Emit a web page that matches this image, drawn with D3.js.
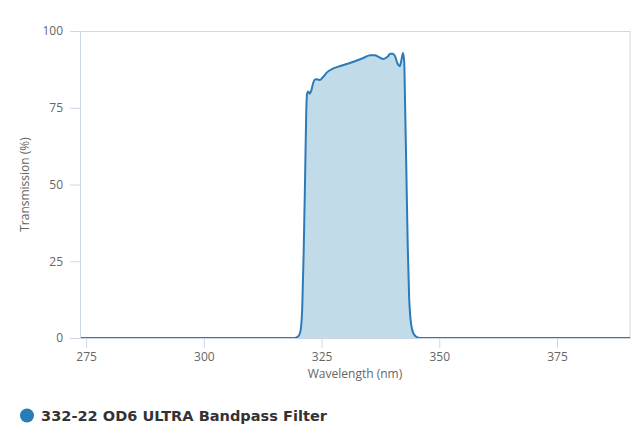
<!DOCTYPE html>
<html>
<head>
<meta charset="utf-8">
<script src="https://cdn.jsdelivr.net/npm/d3@7"></script>
<style>
  html, body { margin: 0; padding: 0; background: #fff; }
  svg { display: block; }
</style>
</head>
<body>
<svg id="chart" width="640" height="446"></svg>
<script>
// ---- data ----
const seriesName = "332-22 OD6 ULTRA Bandpass Filter";
const wavelength = [273.7, 319.0, 319.7, 320.2, 320.6, 320.9, 321.2, 321.5, 321.75, 321.95,
  322.2, 322.5, 322.8, 323.2, 323.6, 324.1, 324.6, 325.3, 326.2, 327.5,
  329.0, 330.7, 332.5, 334.0, 335.3, 336.3, 337.2, 338.1, 339.0, 339.6,
  340.1, 340.6, 341.1, 341.6, 341.95, 342.3, 342.55, 342.75, 343.0, 343.3,
  343.6, 343.9, 344.2, 344.6, 345.2, 346.0, 390.5];
const transmission = [0, 0, 0.2, 0.8, 3, 10, 28, 52, 74, 79.8,
  80.3, 79.6, 80.5, 83, 84.2, 84.3, 84.0, 85.0, 86.6, 87.8,
  88.6, 89.4, 90.4, 91.3, 92.1, 92.1, 91.5, 90.9, 91.6, 92.6,
  92.6, 91.8, 89.5, 88.5, 90.5, 92.8, 90, 75, 55, 30,
  13, 6, 3, 1.2, 0.3, 0, 0];
const xTicks = [275, 300, 325, 350, 375];
const yTicks = [0, 25, 50, 75, 100];
const xTitle = "Wavelength (nm)";
const yTitle = "Transmission (%)";

// ---- layout ----
const svg = d3.select("#chart");
const pLeft = 80, pRight = 630, pTop = 31, pBottom = 338;
const font = "'Open Sans', sans-serif";

const x = d3.scaleLinear().domain([273.7, 390.5]).range([pLeft, pRight]);
const y = d3.scaleLinear().domain([0, 100]).range([pBottom, pTop]);

const data = wavelength.map((w, i) => ({ w, t: transmission[i] }));

// plot border
svg.append("rect")
  .attr("x", pLeft + 0.5).attr("y", pTop + 0.5)
  .attr("width", pRight - pLeft - 0.5).attr("height", pBottom - pTop)
  .attr("fill", "none").attr("stroke", "#d6d6d6").attr("stroke-width", 1);

// area + line
const area = d3.area().x(d => x(d.w)).y0(y(0)).y1(d => y(d.t)).curve(d3.curveMonotoneX);
const line = d3.line().x(d => x(d.w)).y(d => y(d.t)).curve(d3.curveMonotoneX);

svg.append("path").datum(data).attr("d", area).attr("fill", "#c2dbe9");
svg.append("path").datum(data).attr("d", line)
  .attr("fill", "none").attr("stroke", "#2b7bb9").attr("stroke-width", 2)
  .attr("stroke-linejoin", "round");

// x axis
const xAxis = svg.append("g").attr("transform", `translate(0,${pBottom})`)
  .call(d3.axisBottom(x).tickValues(xTicks).tickSize(10).tickPadding(4).tickFormat(d3.format("d")));
xAxis.select(".domain").attr("stroke", "#ccd6eb").attr("d", `M${pLeft},0.5H${pRight}`);
xAxis.selectAll(".tick line").attr("stroke", "#ccd6eb");
xAxis.selectAll(".tick text").attr("fill", "#666").attr("font-family", font).attr("font-size", "12px");

// y axis
const yAxis = svg.append("g").attr("transform", `translate(${pLeft},0)`)
  .call(d3.axisLeft(y).tickValues(yTicks).tickSize(10).tickPadding(7).tickFormat(d3.format("d")));
yAxis.select(".domain").attr("stroke", "#ccd6eb").attr("d", `M0.5,${pTop}V${pBottom}`);
yAxis.selectAll(".tick line").attr("stroke", "#ccd6eb");
yAxis.selectAll(".tick text").attr("fill", "#666").attr("font-family", font).attr("font-size", "12px");

// axis titles
svg.append("text").attr("x", (pLeft + pRight) / 2).attr("y", 378)
  .attr("text-anchor", "middle").attr("fill", "#666")
  .attr("font-family", font).attr("font-size", "12px").text(xTitle);
svg.append("text").attr("transform", `translate(29,${(pTop + pBottom) / 2}) rotate(-90)`)
  .attr("text-anchor", "middle").attr("fill", "#666")
  .attr("font-family", font).attr("font-size", "12px").text(yTitle);

// legend
svg.append("circle").attr("cx", 27).attr("cy", 415.5).attr("r", 7).attr("fill", "#2b7bb9");
svg.append("text").attr("x", 41).attr("y", 421)
  .attr("fill", "#333").attr("font-family", "'DejaVu Sans', sans-serif").attr("font-weight", "bold")
  .attr("font-size", "14px").attr("textLength", 286).attr("lengthAdjust", "spacingAndGlyphs")
  .text(seriesName);
</script>
</body>
</html>
